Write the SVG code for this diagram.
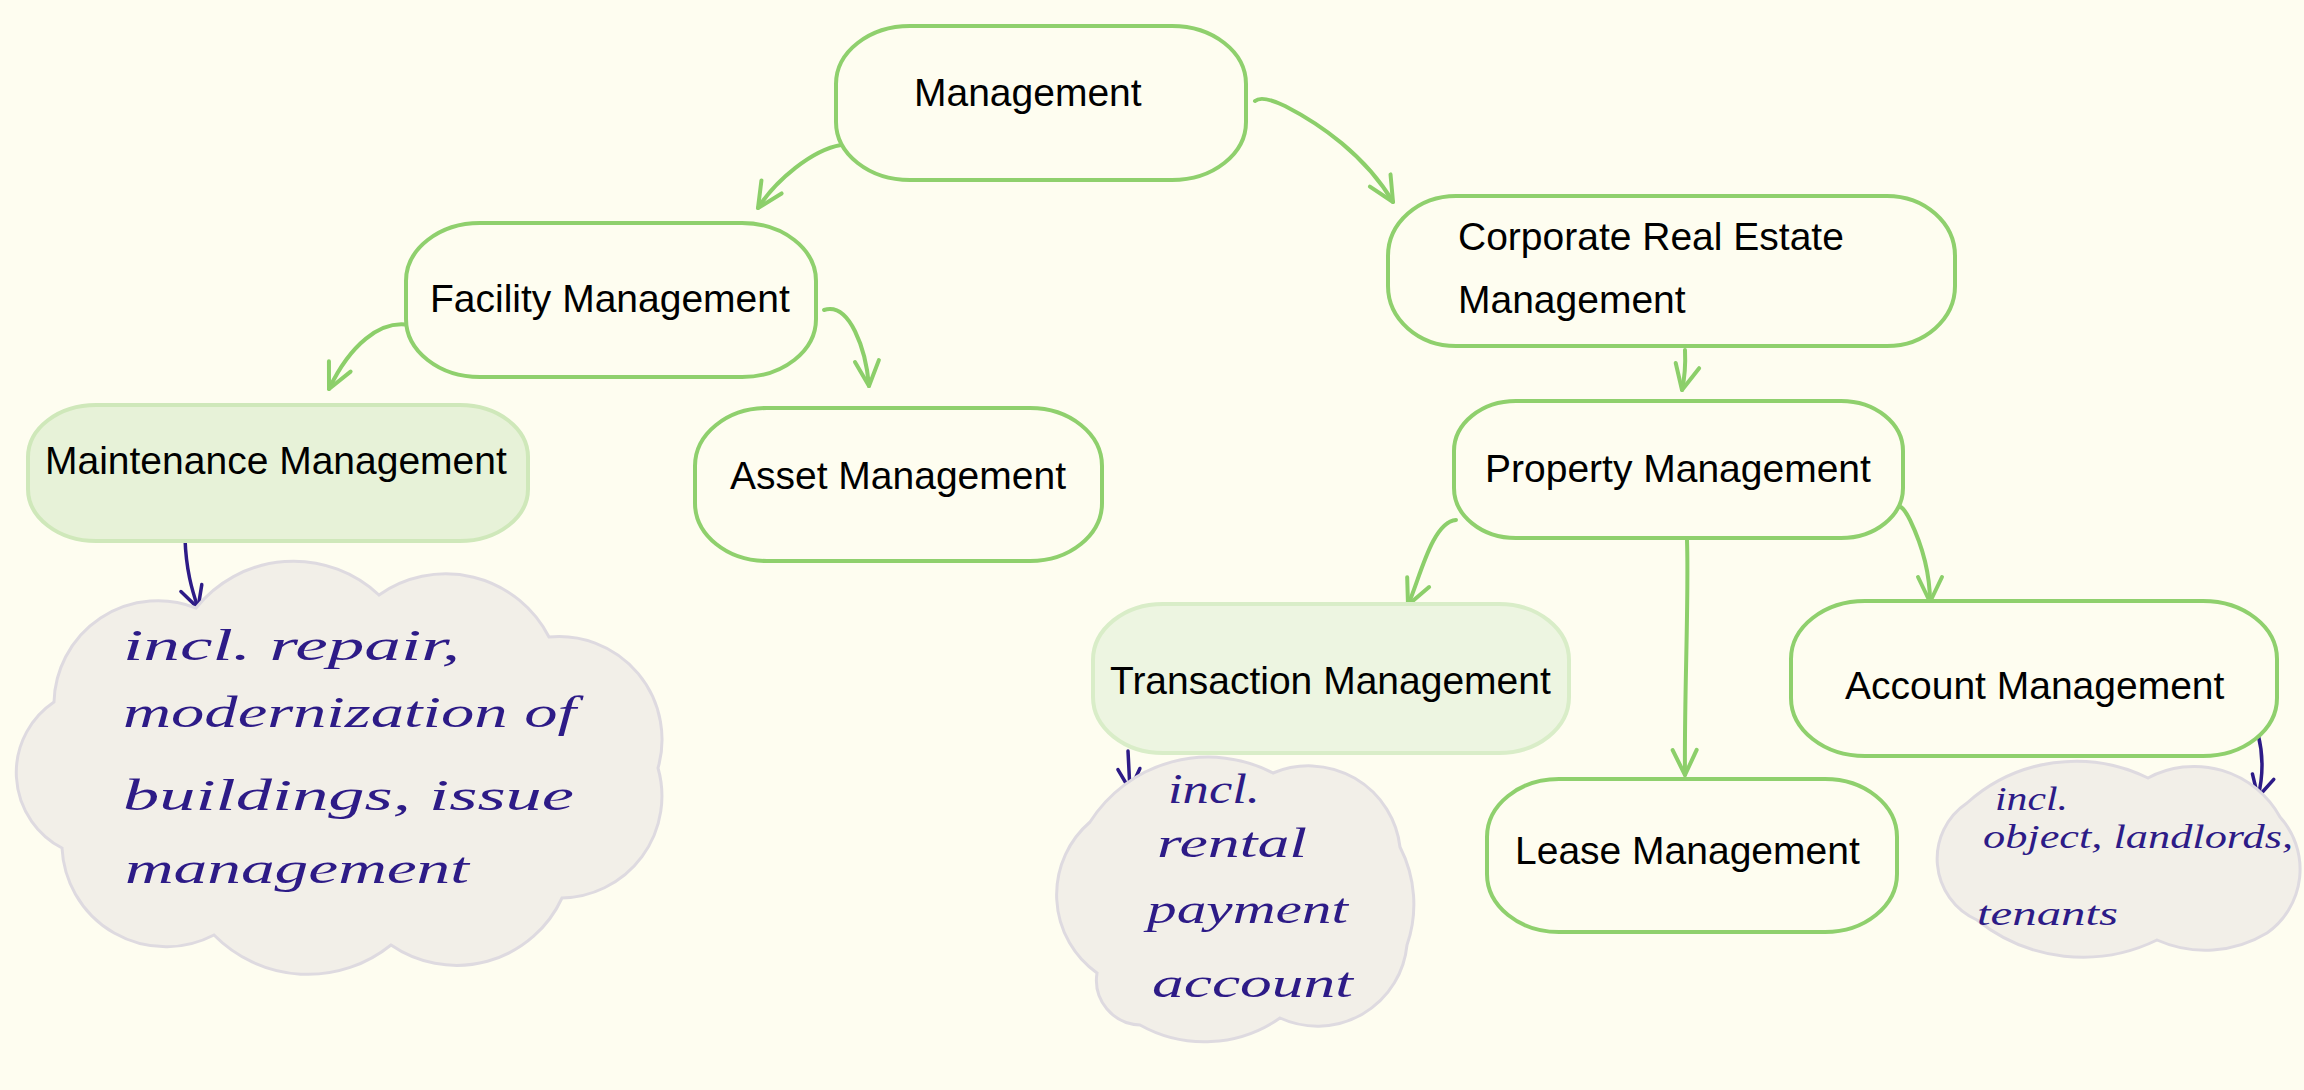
<svg xmlns="http://www.w3.org/2000/svg" width="2304" height="1090" viewBox="0 0 2304 1090">
<style>
.bg{fill:#fefdf0}
.node{fill:#fefdf0;stroke:#8fd06d;stroke-width:4}
.hl1{fill:#e7f2d8;stroke:#cfe8ba;stroke-width:4}
.hl2{fill:#edf5e1;stroke:#d9edc8;stroke-width:4}
.lbl{font-family:"Liberation Sans",Arial,sans-serif;font-size:39px;fill:#000}
.conn{fill:none;stroke:#8ccf6a;stroke-width:4;stroke-linecap:round;stroke-linejoin:round}
.ink{fill:none;stroke:#2d1b87;stroke-width:3.5;stroke-linecap:round;stroke-linejoin:round}
.cloud{fill:#f2efe8;stroke:#dedae0;stroke-width:3}
.hand{font-family:"Liberation Serif","DejaVu Serif",serif;font-style:italic;fill:#2d1b87}
</style>
<defs>
<marker id="ahG" markerUnits="userSpaceOnUse" orient="auto" overflow="visible" refX="0" refY="0" markerWidth="1" markerHeight="1">
<path d="M -25 -12 L 0 0 L -25 12" fill="none" stroke="#8ccf6a" stroke-width="4" stroke-linecap="round" stroke-linejoin="round"/>
</marker>
<marker id="ahP" markerUnits="userSpaceOnUse" orient="auto" overflow="visible" refX="0" refY="0" markerWidth="1" markerHeight="1">
<path d="M -21 -11 L 0 0 L -21 11" fill="none" stroke="#2d1b87" stroke-width="3.5" stroke-linecap="round" stroke-linejoin="round"/>
</marker>
</defs>
<rect class="bg" x="0" y="0" width="2304" height="1090"/>

<g id="connectors">
<path class="conn" marker-end="url(#ahG)" d="M 841 145 C 812 150, 776 180, 758 208"/>
<path class="conn" marker-end="url(#ahG)" d="M 1255 101 Q 1262 95, 1285 106 C 1320 124, 1365 155, 1393 202"/>
<path class="conn" marker-end="url(#ahG)" d="M 409 325 C 380 320, 350 345, 329 389"/>
<path class="conn" marker-end="url(#ahG)" d="M 824 310 C 850 302, 866 350, 869 386"/>
<path class="conn" marker-end="url(#ahG)" d="M 1685 350 Q 1686 372, 1682 390"/>
<path class="conn" marker-end="url(#ahG)" d="M 1456 520 C 1432 522, 1420 578, 1408 605"/>
<path class="conn" marker-end="url(#ahG)" d="M 1687 540 C 1689 600, 1684 700, 1685 775"/>
<path class="conn" marker-end="url(#ahG)" d="M 1896 510 Q 1900 500, 1910 520 C 1922 545, 1930 575, 1930 602"/>
<path class="ink" marker-end="url(#ahP)" d="M 185 538 C 186 570, 192 590, 198 608"/>
<path class="ink" marker-end="url(#ahP)" d="M 1128 751 L 1130 790"/>
<path class="ink" marker-end="url(#ahP)" d="M 2258 734 Q 2266 765, 2258 797"/>
</g>

<g id="n-management">
<rect class="node" x="836" y="26" width="410" height="154" rx="74" ry="58"/>
<text class="lbl" x="914" y="106">Management</text>
</g>
<g id="n-facility">
<rect class="node" x="406" y="223" width="410" height="154" rx="74" ry="58"/>
<text class="lbl" x="430" y="312">Facility Management</text>
</g>
<g id="n-maintenance">
<rect class="hl1" x="28" y="405" width="500" height="136" rx="68" ry="52"/>
<text class="lbl" x="45" y="474">Maintenance Management</text>
</g>
<g id="n-asset">
<rect class="node" x="695" y="408" width="407" height="153" rx="72" ry="58"/>
<text class="lbl" x="730" y="489">Asset Management</text>
</g>
<g id="n-corporate">
<rect class="node" x="1388" y="196" width="567" height="150" rx="68" ry="60"/>
<text class="lbl" x="1458" y="250">Corporate Real Estate</text>
<text class="lbl" x="1458" y="313">Management</text>
</g>
<g id="n-property">
<rect class="node" x="1454" y="401" width="449" height="137" rx="62" ry="50"/>
<text class="lbl" x="1485" y="482">Property Management</text>
</g>
<g id="n-transaction">
<rect class="hl2" x="1093" y="604" width="476" height="149" rx="70" ry="56"/>
<text class="lbl" x="1110" y="694">Transaction Management</text>
</g>
<g id="n-lease">
<rect class="node" x="1487" y="779" width="410" height="153" rx="72" ry="58"/>
<text class="lbl" x="1515" y="864">Lease Management</text>
</g>
<g id="n-account">
<rect class="node" x="1791" y="601" width="486" height="155" rx="74" ry="58"/>
<text class="lbl" x="1845" y="699">Account Management</text>
</g>

<g id="note-maintenance">
<path class="cloud" d="M 196 608 A 125 125 0 0 1 379 595 A 116 116 0 0 1 549 637 A 103 103 0 0 1 658 768 A 102 102 0 0 1 562 898 A 116 116 0 0 1 391 945 A 132 132 0 0 1 214 935 A 104 104 0 0 1 62 848 A 85 85 0 0 1 54 702 A 104 104 0 0 1 196 608 Z"/>
<text class="hand" font-size="44" x="123" y="660" textLength="337" lengthAdjust="spacingAndGlyphs">incl. repair,</text>
<text class="hand" font-size="44" x="123" y="727" textLength="453" lengthAdjust="spacingAndGlyphs">modernization of</text>
<text class="hand" font-size="44" x="123" y="810" textLength="451" lengthAdjust="spacingAndGlyphs">buildings, issue</text>
<text class="hand" font-size="44" x="125" y="883" textLength="344" lengthAdjust="spacingAndGlyphs">management</text>
</g>
<g id="note-transaction">
<path class="cloud" d="M 1090 822 A 140 140 0 0 1 1273 773 A 92 92 0 0 1 1400 847 A 125 125 0 0 1 1407 945 A 90 90 0 0 1 1280 1018 A 132 132 0 0 1 1140 1025 A 45 45 0 0 1 1097 973 A 96 96 0 0 1 1090 822 Z"/>
<text class="hand" font-size="42" x="1168" y="803" textLength="92" lengthAdjust="spacingAndGlyphs">incl.</text>
<text class="hand" font-size="42" x="1157" y="857" textLength="150" lengthAdjust="spacingAndGlyphs">rental</text>
<text class="hand" font-size="42" x="1147" y="923" textLength="201" lengthAdjust="spacingAndGlyphs">payment</text>
<text class="hand" font-size="42" x="1152" y="997" textLength="201" lengthAdjust="spacingAndGlyphs">account</text>
</g>
<g id="note-account">
<path class="cloud" d="M 1967 803 A 163 163 0 0 1 2148 778 A 98 98 0 0 1 2280 817 A 78 78 0 0 1 2267 933 A 119 119 0 0 1 2157 940 A 169 169 0 0 1 1977 920 A 67 67 0 0 1 1967 803 Z"/>
<text class="hand" font-size="34" x="1995" y="810" textLength="73" lengthAdjust="spacingAndGlyphs">incl.</text>
<text class="hand" font-size="34" x="1983" y="848" textLength="310" lengthAdjust="spacingAndGlyphs">object, landlords,</text>
<text class="hand" font-size="34" x="1977" y="925" textLength="141" lengthAdjust="spacingAndGlyphs">tenants</text>
</g>
</svg>
